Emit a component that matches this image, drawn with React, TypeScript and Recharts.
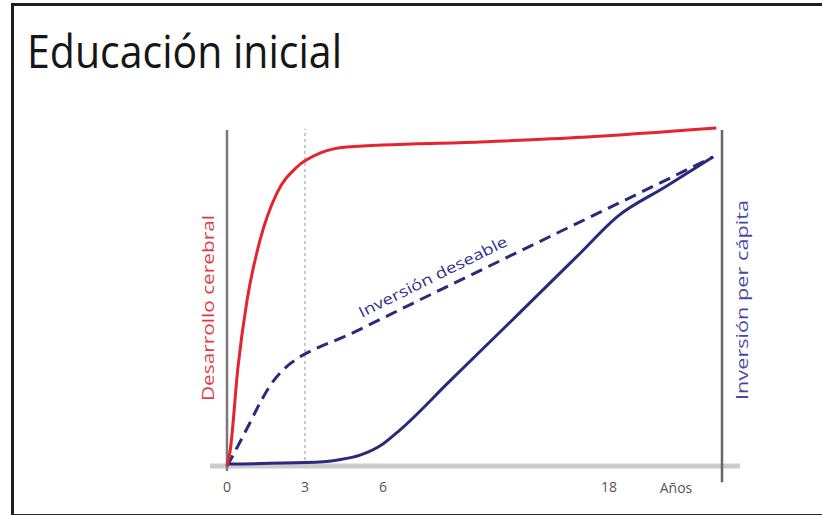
import React from 'react'
import { LineChart, Line, XAxis, YAxis, ReferenceLine, Label } from 'recharts'

const FONT = '"Open Sans", "Noto Sans", sans-serif'
const RED = '#e2252e'
const NAVY = '#2a2a7c'
const AXIS_GRAY = '#7a7a7a'

// ages on the x axis (años) and the conceptual level 0..100 on the y axis
const X_TICKS = [0, 3, 6, 18]
const X_UNIT = 'Años'
const X_DOMAIN = [0, 24]

// the drawing squeezes the later years: knots of the age axis and their share of its length
const AGE_KNOTS = [0, 6, 24]
const KNOT_SHARE = [0, 0.315, 1]

const CEREBRAL_AGE = [0, 0.12, 0.42, 0.77, 1.27, 1.92, 2.69, 3.58, 4.62, 11.15, 16.62, 23.7]
const CEREBRAL_VAL = [0, 4.4, 29, 48.8, 66.6, 80.5, 88.2, 92.3, 94.1, 95.6, 97.0, 99.7]

const DESEABLE_AGE = [0, 0.19, 0.5, 0.88, 1.27, 1.65, 2.04, 2.42, 2.81, 3.31, 4.62, 5.88, 7.59, 10.25, 14.87, 18.43, 21.08, 23.53]
const DESEABLE_VAL = [0, 2.6, 7.1, 12.7, 18.6, 23.6, 27.4, 30.1, 32.2, 34.2, 38.5, 43.2, 48.0, 55.2, 67.7, 77.3, 84.5, 91.2]

const ACTUAL_AGE = [0, 3.04, 4.27, 5.12, 6, 6.9, 9.56, 13.28, 16.46, 18.43, 20.98, 23.53]
const ACTUAL_VAL = [0.6, 1.0, 1.8, 3.2, 6.5, 10.6, 25.1, 45.3, 62.7, 73.5, 82.3, 91.2]

const zip = (ages: number[], vals: number[]) => ages.map((age, i) => ({ age, value: vals[i] }))

const cerebralData = zip(CEREBRAL_AGE, CEREBRAL_VAL)
const deseableData = zip(DESEABLE_AGE, DESEABLE_VAL)
const actualData = zip(ACTUAL_AGE, ACTUAL_VAL)

// piecewise linear scale with the d3 scale interface, so recharts can use it
function ageScale(dom: number[] = X_DOMAIN, rng: number[] = [0, 1]): any {
  let domain = dom.slice()
  let range = rng.slice()

  const share = (v: number) => {
    let i = 0
    while (i < AGE_KNOTS.length - 2 && v > AGE_KNOTS[i + 1]) i++
    const t = (v - AGE_KNOTS[i]) / (AGE_KNOTS[i + 1] - AGE_KNOTS[i])
    return KNOT_SHARE[i] + t * (KNOT_SHARE[i + 1] - KNOT_SHARE[i])
  }
  const unshare = (s: number) => {
    let i = 0
    while (i < KNOT_SHARE.length - 2 && s > KNOT_SHARE[i + 1]) i++
    const t = (s - KNOT_SHARE[i]) / (KNOT_SHARE[i + 1] - KNOT_SHARE[i])
    return AGE_KNOTS[i] + t * (AGE_KNOTS[i + 1] - AGE_KNOTS[i])
  }

  const scale: any = (v: number) => range[0] + share(v) * (range[1] - range[0])
  scale.domain = (d?: number[]) => {
    if (d === undefined) return domain.slice()
    domain = d.slice()
    return scale
  }
  scale.range = (r?: number[]) => {
    if (r === undefined) return range.slice()
    range = r.slice()
    return scale
  }
  scale.invert = (px: number) => unshare((px - range[0]) / (range[1] - range[0]))
  scale.copy = () => ageScale(domain, range)
  scale.ticks = () => X_TICKS.slice()
  scale.tickFormat = () => (v: number) => String(v)
  scale.nice = () => scale
  scale.clamp = () => scale
  scale.unknown = () => scale
  return scale
}

const xScale = ageScale()

function UnitLabel(props: any) {
  const vb = props.viewBox || {}
  return (
    <text
      x={vb.x + vb.width - 46}
      y={vb.y + 27}
      textAnchor="middle"
      fontFamily={FONT}
      fontSize={14}
      fill="#555"
    >
      {X_UNIT}
    </text>
  )
}

export default function App() {
  return (
    <div
      style={{
        position: 'relative',
        width: 822,
        height: 515,
        overflow: 'hidden',
        background: '#fff',
        fontFamily: FONT,
      }}
    >
      <style>{'body{margin:0}'}</style>
      <div
        style={{
          position: 'absolute',
          left: 11,
          top: 3,
          width: 840,
          height: 508,
          borderTop: '3px solid #1e1e1e',
          borderLeft: '3px solid #1e1e1e',
          borderBottom: '3px solid #2a2a2a',
        }}
      />
      <div style={{ position: 'absolute', left: 0, top: 0 }}>
        <LineChart
          width={822}
          height={515}
          margin={{ top: 127, right: 100, bottom: 19, left: 227 }}
        >
          <XAxis
            type="number"
            dataKey="age"
            domain={X_DOMAIN}
            scale={xScale}
            ticks={X_TICKS}
            interval={0}
            height={30}
            axisLine={false}
            tickLine={false}
            tickMargin={10}
            tick={{ fontSize: 14, fill: '#555', fontFamily: FONT }}
          >
            <Label content={<UnitLabel />} />
          </XAxis>
          <YAxis type="number" domain={[0, 100]} hide />

          {/* baseline, axes and the 3-year marker */}
          <ReferenceLine
            segment={[{ x: -0.65, y: 0 }, { x: 24.95, y: 0 }]}
            stroke="#cbcbcb"
            strokeWidth={5}
            ifOverflow="visible"
          />
          <ReferenceLine
            segment={[{ x: 3, y: 0 }, { x: 3, y: 99.5 }]}
            stroke="#c9c9c9"
            strokeWidth={2}
            strokeDasharray="3 3"
            ifOverflow="visible"
          />
          <ReferenceLine
            segment={[{ x: 0, y: -1.5 }, { x: 0, y: 99.1 }]}
            stroke={AXIS_GRAY}
            strokeWidth={2.5}
            ifOverflow="visible"
          />
          <ReferenceLine
            segment={[{ x: 24, y: -4.8 }, { x: 24, y: 99.1 }]}
            stroke="#666"
            strokeWidth={2.5}
            ifOverflow="visible"
          />

          <Line
            data={actualData}
            dataKey="value"
            type="monotone"
            stroke={NAVY}
            strokeWidth={3}
            dot={false}
            isAnimationActive={false}
          />
          <Line
            data={deseableData}
            dataKey="value"
            type="monotone"
            stroke={NAVY}
            strokeWidth={3}
            strokeDasharray="12 7"
            dot={false}
            isAnimationActive={false}
          />
          <Line
            data={cerebralData}
            dataKey="value"
            type="monotone"
            stroke={RED}
            strokeWidth={3}
            dot={false}
            isAnimationActive={false}
          />
        </LineChart>
      </div>

      <svg
        width={822}
        height={515}
        style={{ position: 'absolute', left: 0, top: 0, pointerEvents: 'none' }}
      >
        <text
          x={27}
          y={68}
          fontFamily={FONT}
          fontSize={46}
          fill="#161616"
          textLength={315}
          lengthAdjust="spacingAndGlyphs"
        >
          Educación inicial
        </text>
        <text
          transform="translate(214 308) rotate(-90)"
          textAnchor="middle"
          fontFamily={FONT}
          fontSize={17}
          fill="#e23a44"
          textLength={186}
          lengthAdjust="spacingAndGlyphs"
        >
          Desarrollo cerebral
        </text>
        <text
          transform="translate(748 300) rotate(-90)"
          textAnchor="middle"
          fontFamily={FONT}
          fontSize={17}
          fill="#4a4aa6"
          textLength={200}
          lengthAdjust="spacingAndGlyphs"
        >
          Inversión per cápita
        </text>
        <text
          transform="translate(433 277) rotate(-26.4)"
          textAnchor="middle"
          fontFamily={FONT}
          fontSize={15}
          fill="#33338a"
          y={5}
          textLength={164}
          lengthAdjust="spacingAndGlyphs"
        >
          Inversión deseable
        </text>
      </svg>
    </div>
  )
}
